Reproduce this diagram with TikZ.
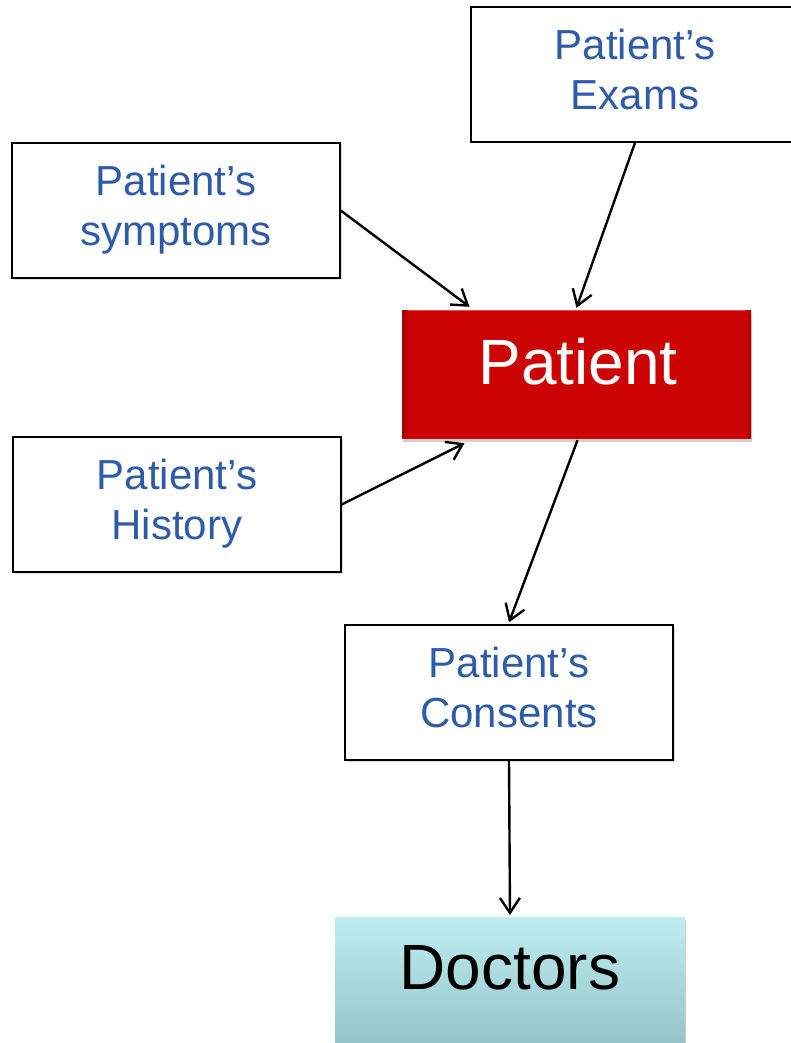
\documentclass[tikz,border=0pt]{standalone}
\usepackage{fontspec}
\setmainfont{Liberation Sans}
\usetikzlibrary{arrows.meta,calc,shadows}
\definecolor{txtblue}{RGB}{46,91,170}
\definecolor{patred}{RGB}{204,4,4}
\definecolor{patredlight}{RGB}{245,80,80}
\definecolor{patreddark}{RGB}{170,0,0}
\definecolor{doctop}{RGB}{190,238,242}
\definecolor{docbot}{RGB}{148,196,200}
\tikzset{
  infobox/.style={draw=black, line width=1.4pt, fill=white, inner sep=0pt,
    minimum width=328pt, minimum height=135pt, align=center,
    text=txtblue, font=\fontsize{42}{50}\selectfont,
    drop shadow={opacity=0.25, shadow xshift=1.5pt, shadow yshift=-1.5pt}},
  redbox/.style={draw=none, inner sep=0pt, minimum width=349pt, minimum height=128pt,
    fill=patred, text=white,
    drop shadow={opacity=0.35, shadow xshift=1pt, shadow yshift=-4pt},
    path picture={
      \shade[top color=patredlight, bottom color=patred]
        (path picture bounding box.north west) rectangle ([yshift=8pt]path picture bounding box.north east);
      \shade[left color=patreddark, right color=patred]
        (path picture bounding box.north west) rectangle ([xshift=6pt]path picture bounding box.south west);
      \shade[right color=patreddark, left color=patred]
        (path picture bounding box.north east) rectangle ([xshift=-6pt]path picture bounding box.south east);
      \shade[bottom color=patreddark, top color=patred]
        (path picture bounding box.south west) rectangle ([yshift=-6pt]path picture bounding box.south east);
    }},
  docbox/.style={draw=none, inner sep=0pt, minimum width=350pt, minimum height=128pt,
    top color=doctop, bottom color=docbot, text=black,
    drop shadow={opacity=0.35, shadow xshift=1pt, shadow yshift=-3pt}},
  bigtext/.style={font=\fontsize{64}{70}\selectfont, inner sep=0pt},
  conn/.style={line width=2.4pt, -{Straight Barb[length=15pt,width=20pt,line width=2.4pt]}},
}
\begin{document}
\begin{tikzpicture}[x=1pt,y=-1pt]
\useasboundingbox (0,0) rectangle (791,1043);
\clip (0,0) rectangle (791,1043);
\fill[white] (0,0) rectangle (791,1043);
\node[infobox] (exams) at (635,74.5) {Patient’s\\Exams\\[-40pt]};
\node[infobox] (symptoms) at (176,210.5) {Patient’s\\symptoms\\[-40pt]};
\node[infobox] (history) at (177,504.5) {Patient’s\\History\\[-40pt]};
\node[redbox] (patient) at (576.5,374) {};
\node[bigtext, text=white] (patlabel) at (578,362) {Patient};
\node[infobox] (consents) at (509,692.5) {Patient’s\\Consents\\[-40pt]};
\node[docbox, anchor=north] (doctors) at (510,917) {};
\node[bigtext, text=black] (doclabel) at (510,968) {Doctors};
\draw[conn] (symptoms.east) -- ($(patient.north)+(-107,-3)$);
\draw[conn] (exams.south) -- ($(patient.north)+(0,-2)$);
\draw[conn] (history.east) -- ($(patient.south)+(-112,5)$);
\draw[conn] ($(patient.south)+(1,2)$) -- ($(consents.north)+(0,-2)$);
\draw[conn] (consents.south) -- ($(doctors.north)+(0,-2)$);
\end{tikzpicture}
\end{document}
